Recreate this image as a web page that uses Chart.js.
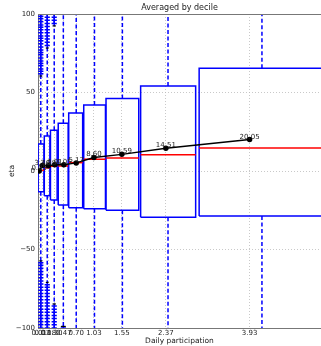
<!DOCTYPE html>
<html>
<head>
<meta charset="utf-8">
<script src="https://cdn.jsdelivr.net/npm/chart.js@4.4.1/dist/chart.umd.min.js"></script>
<style>
  html, body { margin: 0; padding: 0; background: #fff; }
</style>
</head>
<body>
<canvas id="chart" width="321" height="346"></canvas>
<script>
"use strict";

// decile means: daily participation (x) and eta (y)
const tickPos = [0.01, 0.07, 0.18, 0.30, 0.47, 0.70, 1.03, 1.55, 2.37, 3.93];
const tickLabels = ["0.01", "0.07", "0.18", "0.30", "0.47", "0.70", "1.03", "1.55", "2.37", "3.93"];
const meanEta = [0.05, 3.46, 3.38, 4.01, 4.05, 5.17, 8.60, 10.59, 14.51, 20.05];

// box plots per decile
const boxCenter = [0.04, 0.16, 0.29, 0.46, 0.70, 1.04, 1.56, 2.41, 4.16];
const boxLeft = [-0.01, 0.105, 0.22, 0.365, 0.56, 0.84, 1.255, 1.90, 2.99];
const boxRight = [0.10, 0.21, 0.345, 0.55, 0.82, 1.245, 1.865, 2.925, 5.33];
const boxQ1 = [-13.2, -15.7, -18.5, -21.7, -23.4, -24.0, -25.0, -29.5, -28.7];
const boxQ3 = [17.2, 22.3, 25.9, 30.4, 36.9, 42.0, 46.1, 54.1, 65.4];
const boxMedian = [0.5, 2.0, 3.0, 3.2, 5.3, 7.5, 8.3, 10.4, 14.6];
const whiskerHi = [60.5, 78.3, 92.4, 130, 130, 130, 130, 130, 130];
const whiskerLo = [-57.3, -71, -84.7, -99, -130, -130, -130, -130, -130];
const fliersHi = [
  [62, 63.5, 65, 67, 68.5, 70, 72, 74, 75.5, 77, 79, 81, 83, 84.5, 86, 88, 90, 91.5, 93, 95, 97, 98.5, 100],
  [80, 82, 84, 86, 88, 90, 92, 94, 96, 98, 100],
  [94, 96, 98, 100],
  [], [], [], [], [], []
];
const fliersLo = [
  [-58.5, -60, -62, -64, -66, -68, -70, -72, -74, -76, -78, -80, -82, -84, -86, -88, -90, -92, -94, -96, -98, -100],
  [-72.5, -74, -76, -78, -80, -82, -84, -86, -88, -90, -92, -94, -96, -98, -100],
  [-86, -88, -90, -92, -94, -96, -98, -100],
  [-100], [], [], [], [], []
];

const BLUE = "#0000ff";
const FONT = "'DejaVu Sans', sans-serif";

function seg(x1, y1, x2, y2) {
  return [{ x: x1, y: y1 }, { x: x2, y: y2 }];
}

let datasets = [];

// mean line on top
datasets.push({
  data: tickPos.map((p, i) => ({ x: p, y: meanEta[i] })),
  showLine: true,
  borderColor: "#000",
  backgroundColor: "#000",
  borderWidth: 1.5,
  pointRadius: 2,
});

for (let i = 0; i < boxCenter.length; i++) {
  let c = boxCenter[i];
  let w = boxRight[i] - boxLeft[i];
  // median
  datasets.push({ data: seg(boxLeft[i], boxMedian[i], boxRight[i], boxMedian[i]), showLine: true, borderColor: "#ff0000", borderWidth: 1.5, pointRadius: 0 });
  // box
  datasets.push({
    data: [
      { x: boxLeft[i], y: boxQ1[i] }, { x: boxRight[i], y: boxQ1[i] },
      { x: boxRight[i], y: boxQ3[i] }, { x: boxLeft[i], y: boxQ3[i] },
      { x: boxLeft[i], y: boxQ1[i] },
    ],
    showLine: true, borderColor: BLUE, borderWidth: 1.5, pointRadius: 0,
  });
  // caps
  datasets.push({ data: seg(c - w / 4, whiskerHi[i], c + w / 4, whiskerHi[i]), showLine: true, borderColor: "#000", borderWidth: 1.2, pointRadius: 0 });
  datasets.push({ data: seg(c - w / 4, whiskerLo[i], c + w / 4, whiskerLo[i]), showLine: true, borderColor: "#000", borderWidth: 1.2, pointRadius: 0 });
  // fliers
  datasets.push({
    data: fliersHi[i].concat(fliersLo[i]).map((v) => ({ x: c, y: v })),
    showLine: false, pointStyle: "cross", pointRadius: 2.6, borderColor: BLUE, borderWidth: 1.5,
  });
  // whiskers
  datasets.push({ data: seg(c, boxQ3[i], c, whiskerHi[i]), showLine: true, borderColor: BLUE, borderWidth: 1.5, borderDash: [4, 2.5], pointRadius: 0 });
  datasets.push({ data: seg(c, boxQ1[i], c, whiskerLo[i]), showLine: true, borderColor: BLUE, borderWidth: 1.5, borderDash: [4, 2.5], pointRadius: 0 });
}

const meanLabels = {
  id: "meanLabels",
  afterDatasetsDraw(chart) {
    const { ctx, scales: { x, y } } = chart;
    const a = chart.chartArea;
    ctx.save();
    ctx.font = "7px " + FONT;
    ctx.fillStyle = "#222";
    ctx.textAlign = "center";
    ctx.textBaseline = "alphabetic";
    for (let i = 0; i < tickPos.length; i++) {
      ctx.fillText(meanEta[i].toFixed(2), x.getPixelForValue(tickPos[i]), y.getPixelForValue(meanEta[i]) - 1);
    }
    // top spine
    ctx.strokeStyle = "#777";
    ctx.lineWidth = 1;
    ctx.beginPath();
    ctx.moveTo(a.left, a.top + 0.5);
    ctx.lineTo(a.right, a.top + 0.5);
    ctx.stroke();
    ctx.restore();
  },
};

new Chart(document.getElementById("chart"), {
  type: "scatter",
  data: { datasets: datasets },
  plugins: [meanLabels],
  options: {
    responsive: false,
    animation: false,
    devicePixelRatio: 1,
    layout: { padding: 0, autoPadding: false },
    plugins: {
      legend: { display: false },
      tooltip: { enabled: false },
      title: {
        display: true,
        text: "Averaged by decile",
        fullSize: false,
        color: "#222",
        font: { family: FONT, size: 8, weight: "normal", lineHeight: 1.125 },
        padding: { top: 3, bottom: 2 },
      },
    },
    scales: {
      x: {
        type: "linear",
        min: -0.012,
        max: 5.26,
        afterFit: (scale) => { scale.height = 18; },
        afterBuildTicks: (scale) => { scale.ticks = tickPos.map((v) => ({ value: v })); },
        ticks: {
          autoSkip: false,
          maxRotation: 0,
          minRotation: 0,
          padding: 1,
          color: "#222",
          font: { family: FONT, size: 7 },
          callback: (v, i) => tickLabels[i],
        },
        grid: { color: "#bbb", lineWidth: 0.8, drawTicks: false },
        border: { color: "#777", width: 1, dash: [1, 2] },
        title: {
          display: true,
          text: "Daily participation",
          color: "#222",
          font: { family: FONT, size: 7.5, lineHeight: 1.2 },
          padding: 0,
        },
      },
      y: {
        min: -100,
        max: 100,
        afterFit: (scale) => { scale.width = 38; },
        ticks: {
          stepSize: 50,
          padding: 3,
          color: "#222",
          font: { family: FONT, size: 7 },
          callback: (v) => (v < 0 ? "\u2212" + Math.abs(v) : String(v)),
        },
        grid: { color: "#bbb", lineWidth: 0.8, drawTicks: false },
        border: { color: "#777", width: 1, dash: [1, 2] },
        title: {
          display: true,
          text: "eta",
          color: "#222",
          font: { family: FONT, size: 7.5, lineHeight: 1.2 },
          padding: { top: 7.5 },
        },
      },
    },
  },
});
</script>
</body>
</html>
